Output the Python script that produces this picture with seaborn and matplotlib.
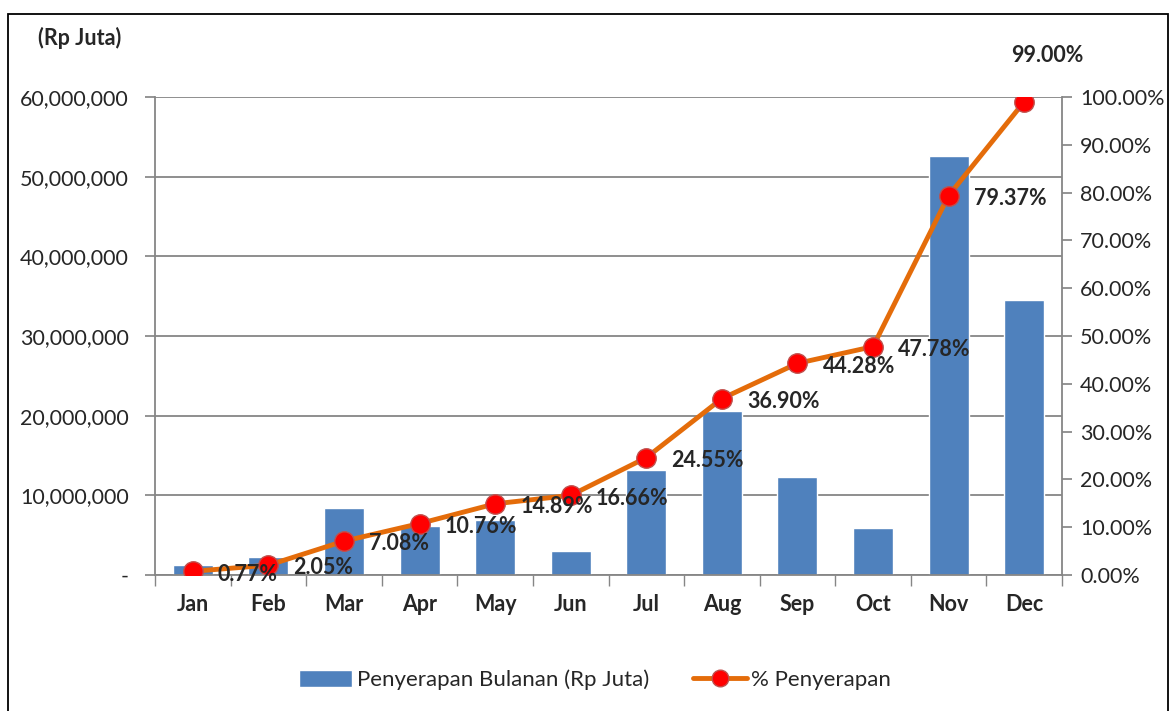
import numpy as np
import pandas as pd
import seaborn as sns
import matplotlib.pyplot as plt
from matplotlib.lines import Line2D
from matplotlib.patches import Patch, Rectangle
from matplotlib.ticker import FuncFormatter, MultipleLocator

# data
months = ['Jan', 'Feb', 'Mar', 'Apr', 'May', 'Jun', 'Jul', 'Aug', 'Sep', 'Oct', 'Nov', 'Dec']
monthly_rp = [1.25e6, 2.3e6, 8.4e6, 6.1e6, 6.9e6, 3.0e6, 13.2e6, 20.6e6, 12.3e6, 5.9e6, 52.6e6, 34.5e6]
cum_pct = [0.77, 2.05, 7.08, 10.76, 14.89, 16.66, 24.55, 36.90, 44.28, 47.78, 79.37, 99.00]

bar_label = 'Penyerapan Bulanan (Rp Juta)'
line_label = '% Penyerapan'
unit_label = '(Rp Juta)'

bar_color = '#4F81BD'
line_color = '#E46C0A'
grid_color = '#868686'

sns.set_theme(style='white')
plt.rcParams['font.family'] = ['Lato', 'DejaVu Sans']

fig = plt.figure(figsize=(11.71, 7.11), dpi=100)
ax = fig.add_axes([0.1324, 0.1913, 0.7745, 0.6723])

df = pd.DataFrame({'month': months, 'rp': monthly_rp, 'pct': cum_pct})
sns.barplot(data=df, x='month', y='rp', color=bar_color, width=0.53, saturation=1, ax=ax)

ax.set_ylim(0, 60e6)
ax.set_xlim(-0.5, 11.5)
ax.yaxis.set_major_locator(MultipleLocator(10e6))
ax.yaxis.set_major_formatter(FuncFormatter(lambda v, p: '-' if v == 0 else f'{v:,.0f}'))
ax.grid(axis='y', color=grid_color, linewidth=1.3)
ax.set_axisbelow(True)
ax.set_xlabel('')
ax.set_ylabel('')
ax.tick_params(axis='y', labelsize=15.5, length=7, color=grid_color, direction='out', left=True, pad=12)
ax.tick_params(axis='x', labelsize=15.5, length=0, pad=14)
for t in ax.get_xticklabels():
    t.set_fontweight('bold')
# category boundary ticks
ax.set_xticks(np.arange(-0.5, 12, 1), minor=True)
ax.tick_params(axis='x', which='minor', length=8, color=grid_color, direction='out', bottom=True)
for s in ['left', 'bottom']:
    ax.spines[s].set_color(grid_color)
    ax.spines[s].set_linewidth(1.3)
ax.spines['top'].set_visible(False)
ax.spines['right'].set_visible(False)

ax2 = ax.twinx()
sns.lineplot(x=np.arange(len(months)), y=cum_pct, ax=ax2, color=line_color, linewidth=3.5,
             marker='o', markersize=14, markerfacecolor='#FF0000', markeredgecolor='#C0504D',
             markeredgewidth=1)
ax2.set_ylim(0, 100)
ax2.yaxis.set_major_locator(MultipleLocator(10))
ax2.yaxis.set_major_formatter(FuncFormatter(lambda v, p: f'{v:.2f}%'))
ax2.tick_params(axis='y', labelsize=15.5, length=7, color=grid_color, direction='out', right=True, pad=6)
for s in ['left', 'top', 'bottom']:
    ax2.spines[s].set_visible(False)
ax2.spines['right'].set_color(grid_color)
ax2.spines['right'].set_linewidth(1.3)
ax2.set_ylabel('')

for i, v in enumerate(cum_pct):
    if i == len(cum_pct) - 1:
        ax2.annotate(f'{v:.2f}%', (i, v), xytext=(17, 33), textcoords='offset points',
                     ha='center', va='center', fontsize=15.5, fontweight='bold')
    else:
        ax2.annotate(f'{v:.2f}%', (i, v), xytext=(18, -2), textcoords='offset points',
                     ha='left', va='center', fontsize=15.5, fontweight='bold')

fig.text(38 / 1171, 1 - 38 / 711, unit_label, fontsize=15.5, fontweight='bold', ha='left', va='center')

handles = [Patch(facecolor=bar_color, label=bar_label),
           Line2D([0], [0], color=line_color, linewidth=3.5, marker='o', markersize=12,
                  markerfacecolor='#FF0000', markeredgecolor='#C0504D', label=line_label)]
fig.legend(handles=handles, loc='center', bbox_to_anchor=(595 / 1171, 1 - 680 / 711), ncol=2,
           frameon=False, fontsize=16, handlelength=2.4, handleheight=0.8,
           columnspacing=2.0, handletextpad=0.2)

fig.patches.append(Rectangle((8 / 1171, -0.01), 1160 / 1171, 1 - 14 / 711 + 0.01,
                             transform=fig.transFigure, fill=False, edgecolor='black', linewidth=1.3))

fig.savefig('out.png', dpi=100)
